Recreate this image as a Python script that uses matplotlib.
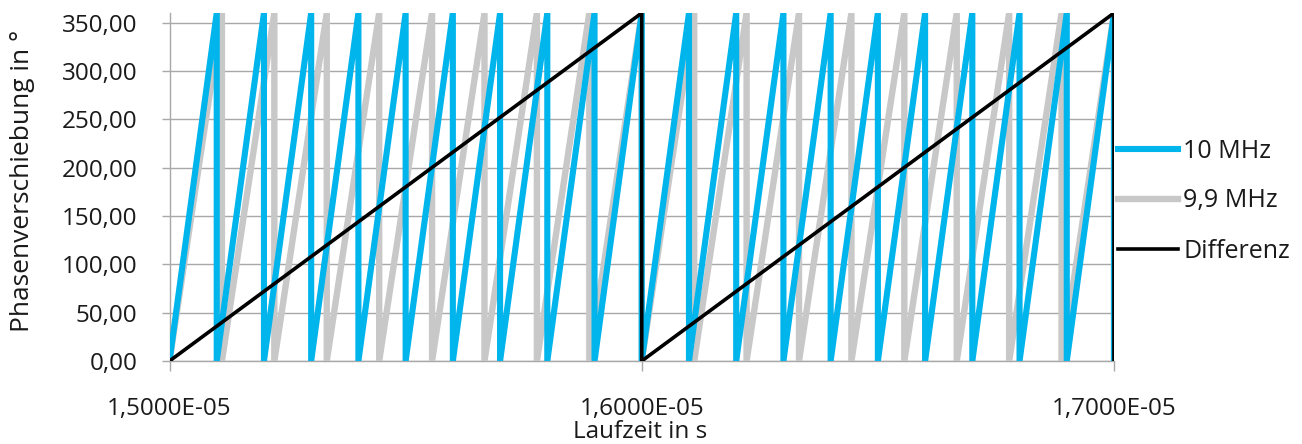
import matplotlib
matplotlib.use("Agg")
import matplotlib.pyplot as plt
from matplotlib.lines import Line2D

# ---- data ----
start_time = 1.5e-5
phase_max = 360.0
# times (s) at which each series wraps from 360 back to 0
blue_wraps = [1.51e-5, 1.52e-5, 1.53e-5, 1.54e-5, 1.55e-5, 1.56e-5, 1.57e-5,
              1.58e-5, 1.59e-5, 1.60e-5, 1.61e-5, 1.62e-5, 1.63e-5, 1.64e-5,
              1.65e-5, 1.66e-5, 1.67e-5, 1.68e-5, 1.69e-5, 1.70e-5]
gray_wraps = [1.5111e-5, 1.5222e-5, 1.5333e-5, 1.5444e-5, 1.5556e-5, 1.5667e-5,
              1.5778e-5, 1.5889e-5, 1.6000e-5, 1.6111e-5, 1.6222e-5, 1.6333e-5,
              1.6444e-5, 1.6556e-5, 1.6667e-5, 1.6778e-5, 1.6889e-5, 1.7000e-5]
diff_wraps = [1.60e-5, 1.70e-5]

series_labels = ["10 MHz", "9,9 MHz", "Differenz"]
y_ticks = [0, 50, 100, 150, 200, 250, 300, 350]
y_ticklabels = ["0,00", "50,00", "100,00", "150,00", "200,00", "250,00", "300,00", "350,00"]
x_ticks = [1.5e-5, 1.6e-5, 1.7e-5]
x_ticklabels = ["1,5000E-05", "1,6000E-05", "1,7000E-05"]


def sawtooth(wraps):
    xs, ys = [start_time], [0.0]
    for t in wraps:
        xs += [t, t]
        ys += [phase_max, 0.0]
    return xs, ys


BLUE = "#00B4EC"
GRAY = "#C8C8C8"
BLACK = "#000000"
GRID = "#A8A8A8"
TXT = "#1a1a1a"

plt.rcParams["font.family"] = ["Open Sans", "DejaVu Sans"]
FS_TICK = 17.5
FS_YLAB = 19
FS_XLAB = 17.5
FS_LEG = 18

fig = plt.figure(figsize=(13.02, 4.44), dpi=100)
ax = fig.add_axes([169.5 / 1302, 1 - 361 / 444, (1114 - 169.5) / 1302, (361 - 13) / 444])

bx, by = sawtooth(blue_wraps)
gx, gy = sawtooth(gray_wraps)
dx, dy = sawtooth(diff_wraps)

ax.plot(gx, gy, color=GRAY, lw=4.6, zorder=3, solid_joinstyle="miter")
ax.plot(bx, by, color=BLUE, lw=4.4, zorder=4, solid_joinstyle="miter")
ax.plot(dx, dy, color=BLACK, lw=2.6, zorder=5, solid_joinstyle="miter")

ax.set_xlim(x_ticks[0], x_ticks[-1])
ax.set_ylim(0, phase_max)
ax.set_yticks(y_ticks)
ax.set_yticklabels(y_ticklabels)
ax.set_xticks(x_ticks)
ax.set_xticklabels(x_ticklabels)

ax.yaxis.grid(True, color=GRID, lw=1.0)
ax.set_axisbelow(True)
for s in ["top", "right"]:
    ax.spines[s].set_visible(False)
for s in ["left", "bottom"]:
    ax.spines[s].set_color(GRID)
    ax.spines[s].set_linewidth(1.0)
ax.tick_params(axis="y", direction="out", length=6, width=1, color=GRID,
               pad=17, labelsize=FS_TICK, labelcolor=TXT)
ax.tick_params(axis="x", direction="out", length=7, width=1, color=GRID,
               pad=19, labelsize=FS_TICK, labelcolor=TXT)

fig.text(23 / 1302, 1 - 181 / 444, "Phasenverschiebung in °", rotation=90,
         ha="center", va="center", fontsize=FS_YLAB, color=TXT)
fig.text(640 / 1302, 1 - 432 / 444, "Laufzeit in s", ha="center", va="center",
         fontsize=FS_XLAB, color=TXT)

handles = [Line2D([], [], color=BLUE, lw=4.4),
           Line2D([], [], color=GRAY, lw=4.6),
           Line2D([], [], color=BLACK, lw=2.6)]
fig.legend(handles, series_labels, loc="center left",
           bbox_to_anchor=(1118 / 1302, 1 - 201 / 444), frameon=False,
           fontsize=FS_LEG, handlelength=2.4, handletextpad=0.2,
           labelspacing=1.0, borderpad=0, borderaxespad=0, labelcolor=TXT)

fig.savefig("out.png", dpi=100)
